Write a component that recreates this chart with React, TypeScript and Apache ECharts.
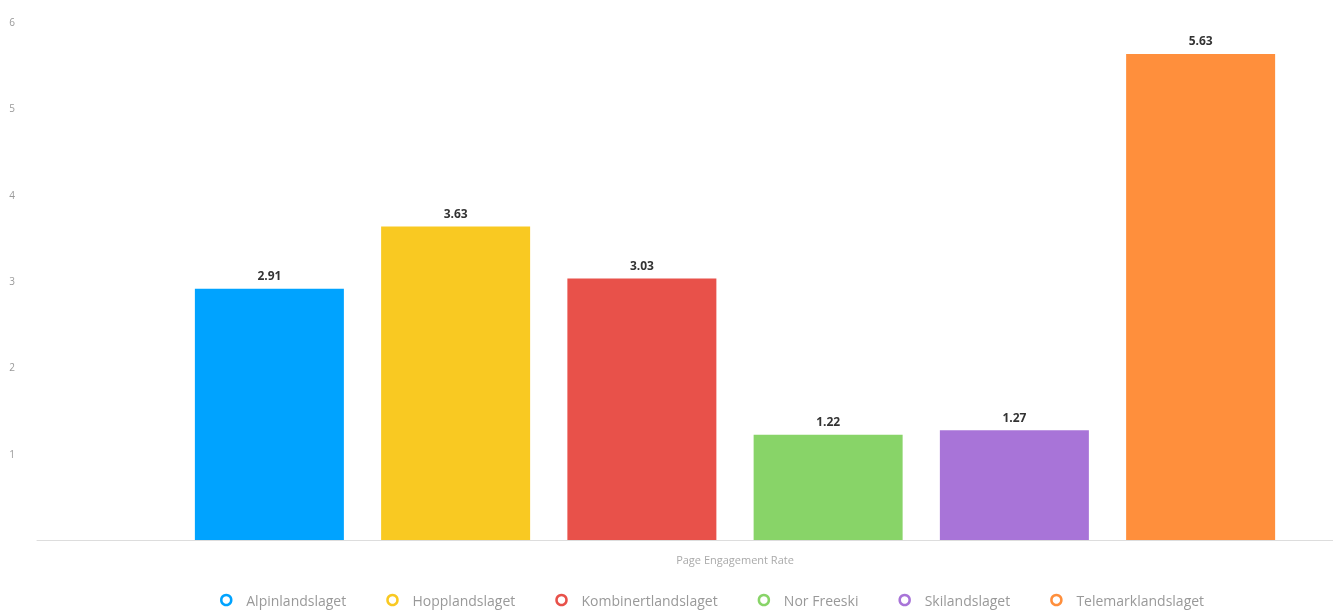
import React, { useEffect, useRef } from "react";
import * as echarts from "echarts";

const categories = ["Page Engagement Rate"];
const seriesNames = [
  "Alpinlandslaget",
  "Hopplandslaget",
  "Kombinertlandslaget",
  "Nor Freeski",
  "Skilandslaget",
  "Telemarklandslaget",
];
const seriesValues = [2.91, 3.63, 3.03, 1.22, 1.27, 5.63];
const seriesColors = ["#00a3ff", "#f9c922", "#e8514a", "#88d468", "#a874d8", "#ff8f3c"];
const yTicks = [0, 1, 2, 3, 4, 5, 6];

export default function App() {
  const ref = useRef<HTMLDivElement>(null);
  useEffect(() => {
    if (!ref.current) return;
    const chart = echarts.init(ref.current, null, { renderer: "svg" });
    chart.setOption({
      animation: false,
      textStyle: { fontFamily: "Open Sans" },
      grid: { left: 37, right: 0, top: 22, bottom: 70 },
      legend: {
        left: 215,
        top: 587,
        padding: 5,
        itemGap: 40,
        itemWidth: 30,
        itemHeight: 10,
        textStyle: { color: "#999", fontSize: 14, fontFamily: "Open Sans", lineHeight: 16 },
        data: seriesNames.map((n, i) => ({
          name: n,
          icon: "circle",
          itemStyle: { color: "#ffffff", borderColor: seriesColors[i], borderWidth: 2.5 },
        })),
      },
      xAxis: {
        type: "category",
        data: categories,
        axisLine: { lineStyle: { color: "#ddd" } },
        axisTick: { show: false },
        axisLabel: { color: "#aaa", fontSize: 11, margin: 14 },
      },
      yAxis: {
        type: "value",
        min: yTicks[0],
        max: yTicks[yTicks.length - 1],
        interval: 1,
        axisLine: { show: false },
        axisTick: { show: false },
        splitLine: { show: false },
        axisLabel: {
          color: "#999",
          fontSize: 10,
          margin: 22,
          formatter: (v: number) => (v === 0 ? "" : String(v)),
        },
      },
      series: seriesNames.map((name, i) => ({
        name,
        type: "bar",
        data: [seriesValues[i]],
        barWidth: 149,
        barGap: "25%",
        itemStyle: { color: seriesColors[i] },
        label: {
          show: true,
          position: "top",
          distance: 7,
          color: "#333",
          fontSize: 12,
          fontWeight: "bold",
          formatter: (p: any) => p.value.toFixed(2),
        },
      })),
    });
    return () => chart.dispose();
  }, []);
  return (
    <div style={{ position: "fixed", left: 0, top: 0, width: 1333, height: 610, overflow: "hidden" }}>
      <div ref={ref} style={{ width: 1433, height: 610 }} />
    </div>
  );
}
